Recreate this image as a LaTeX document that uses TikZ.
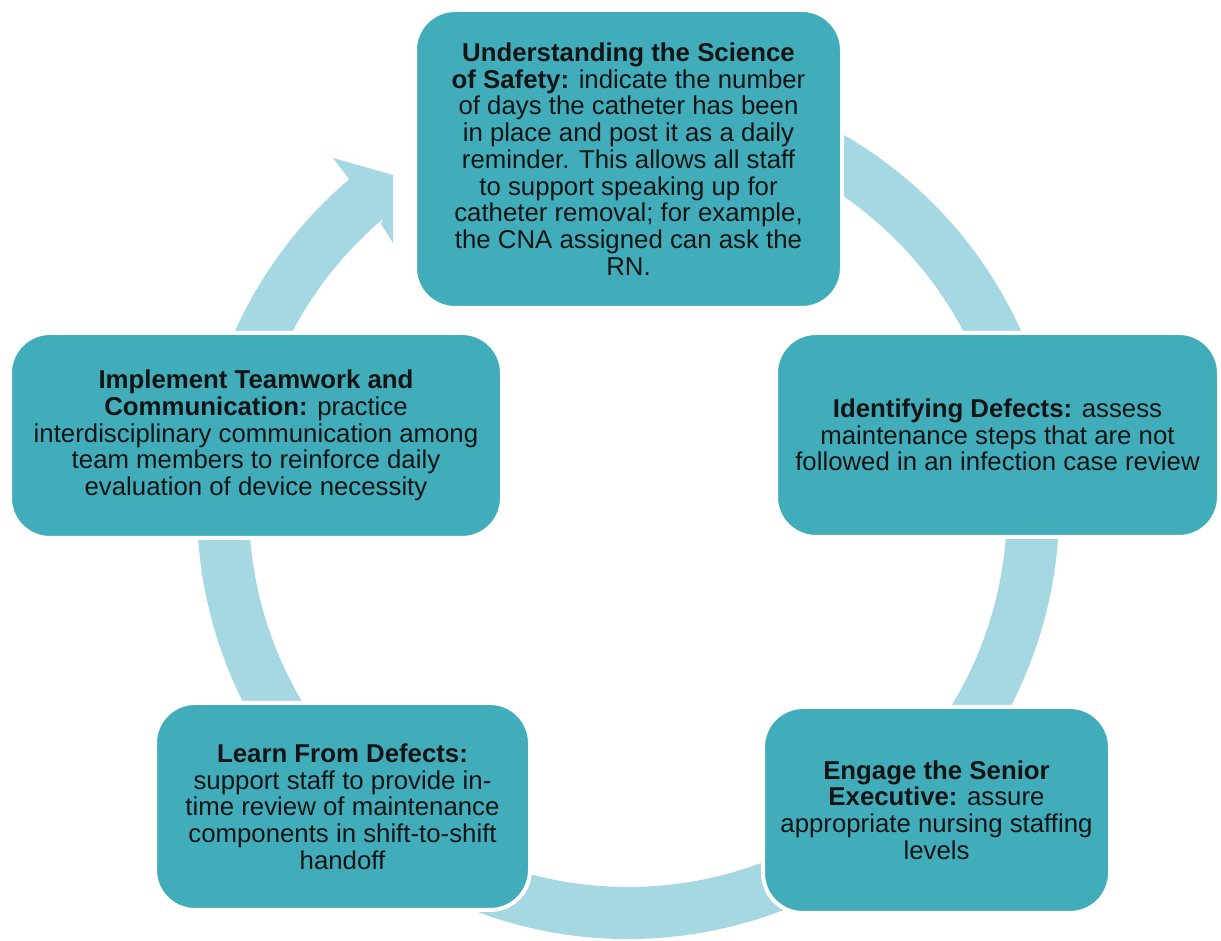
\documentclass[tikz,border=0pt]{standalone}
\usepackage{fontspec}
\setmainfont{Liberation Sans}
\usetikzlibrary{calc}
\definecolor{boxteal}{HTML}{41ADBB}
\definecolor{bandblue}{HTML}{A6D8E3}
\definecolor{txtdark}{HTML}{141414}
\begin{document}
\begin{tikzpicture}[x=1pt,y=1pt,
  cyclebox/.style={fill=boxteal, draw=white, line width=4pt, rounded corners=40pt,
    align=center, text=txtdark, font=\fontsize{25.8}{26.7}\selectfont, inner sep=0pt}]
\useasboundingbox (0,0) rectangle (1221,941);
\coordinate (c) at (628,433);
% circular arrow
\fill[bandblue] ($(c)+(100:431)$) arc[start angle=100,end angle=-229.7,radius=431]
  -- (333,783) -- (393,766) -- (393,698) -- (381,717)
  -- ($(c)+(-229.7:379)$) arc[start angle=-229.7,end angle=100,radius=379] -- cycle;
% boxes
\node[cyclebox, minimum width=427, minimum height=298] (top) at (628.5,782)
  {\textbf{Understanding the Science}\\
   \textbf{of Safety:} indicate the number\\
   of days the catheter has been\\
   in place and post it as a daily\\
   reminder. This allows all staff\\
   to support speaking up for\\
   catheter removal; for example,\\
   the CNA assigned can ask the\\
   RN.};
\node[cyclebox, minimum width=443, minimum height=204] (right) at (997.5,506)
  {\textbf{Identifying Defects:} assess\\
   maintenance steps that are not\\
   followed in an infection case review};
\node[cyclebox, minimum width=347, minimum height=206] (engage) at (936.5,131)
  {\textbf{Engage the Senior}\\
   \textbf{Executive:} assure\\
   appropriate nursing staffing\\
   levels};
\node[cyclebox, minimum width=375, minimum height=207] (learn) at (342.5,134.5)
  {\textbf{Learn From Defects:}\\
   support staff to provide in-\\
   time review of maintenance\\
   components in shift-to-shift\\
   handoff};
\node[cyclebox, minimum width=492, minimum height=205] (left) at (256,505.5)
  {\textbf{Implement Teamwork and}\\
   \textbf{Communication:} practice\\
   interdisciplinary communication among\\
   team members to reinforce daily\\
   evaluation of device necessity};
\end{tikzpicture}
\end{document}
